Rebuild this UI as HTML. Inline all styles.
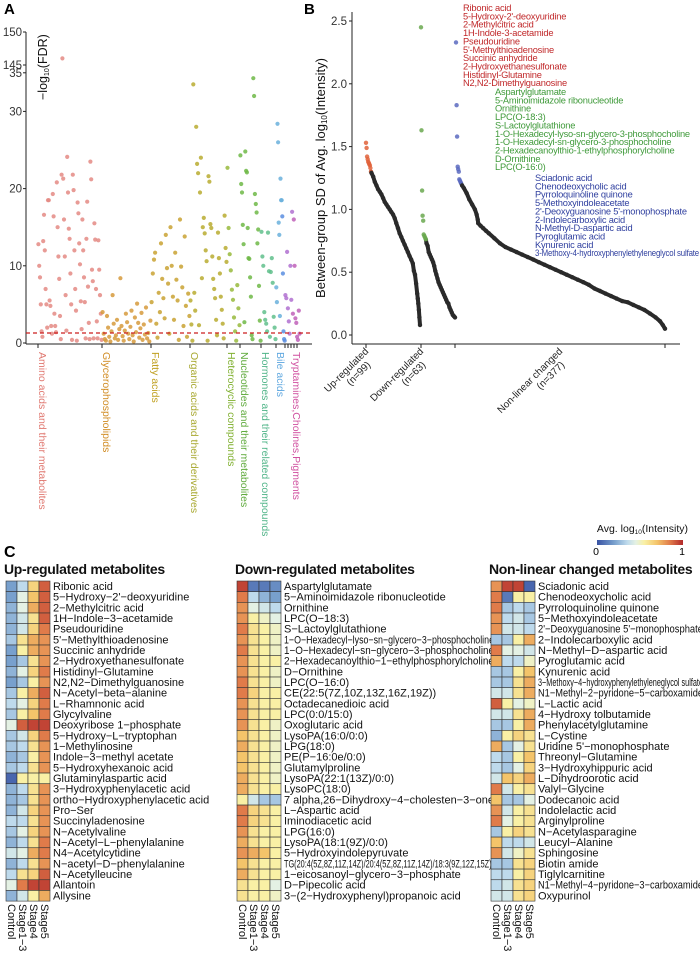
<!DOCTYPE html>
<html><head><meta charset="utf-8"><style>
html,body{margin:0;padding:0;background:#fff;}
svg{display:block;font-family:"Liberation Sans",Arial,sans-serif;}
</style></head><body>
<svg id="fig" width="700" height="957" viewBox="0 0 700 957" xmlns="http://www.w3.org/2000/svg">
<g id="pa"></g>
<g id="pb"></g>
<g id="pc"></g>
</svg>
<script>
// ---------- Panel A data ----------
const catNames = ["Amino acids and their metabolites","Glycerophospholipids","Fatty acids","Organic acids and their derivatives","Heterocyclic compounds","Nucleotides and their metabolites","Hormones and their related compounds","Bile acids","Tryptamines,Cholines,Pigments"];
const aminoVals = [12.8,10,8.5,5,1.5,0.8,13.2,16.6,12,7,5,2,18.5,18.5,5.5,4.8,2.2,1.2,19.3,16.4,3.8,2.2,1.4,20.8,15,11.2,8.3,3.5,0.5,21.8,146,21.3,16,11.2,6.2,1.6,24.1,19.5,14.8,13.5,9,5,0.4,21.8,19.8,12,7,4.2,0.3,18.2,16.8,12.9,10.2,5.4,1.8,16.0,12,8.5,5.3,0.6,13.5,18.3,7.3,2.6,0.5,23.5,21.2,9.5,8,0.6,15.5,13.4,7,2.8,0.6,13.3,9.5,6.2,3.8,0.4];
const glyceroVals = [4,1.2,0.5,0.3,3.5,2,0.8,0.2,1.5,6.2,2.5,0.6,1,3,0.4,1.8,8.4,2.2,0.9,0.3,1.6,3.8,2.7,1.2,0.5,2.1,4.2,1,0.2,3.3,1.4,5.1,2.6,0.7,1.9,3.9,0.4,2.4,1.1,4.6,0.6,1.3,0.2,2.9];
const fattyVals = [5.3,9,10.8,11.7,2.5,0.7,6.5,4,12.9,8.3,5.8,3.2,14,9.7,7.7,1.2,15,10,6,3,11.7,8.2,5.5,0.4,16,9.9,7.2,2.2,13.8,4.8,0.8,6.4,3.5];
const organicVals = [5.5,2.4,0.3,33.5,6.5,4.2,28,23.2,22,2.3,19.5,24,8.4,15,16.2,14.2,12,10.6,0.3,21.6,20.9,15.4,14.9,11.2,8.3,7,5.8,3,1,14.3,11,9,6,4.3,2.5,0.6,16.5,12.3,10.5];
const heteroVals = [22.7,14.9,11.5,9.4,6.9,5.6,3.3,1.5,0.3,7.5,4.5,2.3];
const nucleoVals = [24.3,20.6,19.5,15.3,12.8,2.7,24.8,22.3,22.1,14.9,11,10.9,8.5,6,1,0.5,34.3,32,19.3,18,16.9,12.9,14.7,7.4,2.9,0.3];
const hormoneVals = [14.4,11.2,10,4,3,2.5,1.5,14.3,9.3,0.8,9.2,11,7.8,3.4,2,0.5];
const bileVals = [7.2,5.3,28.4,26,15.6,14,3.5,21.3,18.5,18.5,16.4,9,1.5,0.5,0.3];
const tryptVals = [6.2,5.8,11.8,4.5,2.8,1.2,10,5.6,17,3.8,16,10,3.2,2.6,0.8,0.4,4.2,1.2];
const aTicks = [150,145,35,30,20,10,0];

// ---------- Panel B data ----------
const groupNames = [["Up-regulated","(n=99)"],["Down-regulated","(n=63)"],["Non-linear changed","(n=377)"]];
const groupN = [99,63,377];
const upRank = [1,2,3,4,5,6,7,8,9,10,11,14,17,20,23,26,29,32,35,38,41,44,47,50,53,56,59,62,65,68,71,74,77,80,83,86,88,90,92,94,95,96,97,98,99];
const upVal  = [1.53,1.49,1.42,1.40,1.38,1.37,1.36,1.35,1.33,1.30,1.29,1.26,1.22,1.19,1.16,1.14,1.12,1.09,1.06,1.04,1.02,1.0,0.98,0.96,0.93,0.89,0.85,0.81,0.78,0.75,0.72,0.69,0.66,0.63,0.60,0.57,0.51,0.48,0.41,0.33,0.29,0.25,0.2,0.14,0.08];
const downRank = [1,2,3,4,5,6,7,8,9,10,11,13,15,17,19,21,23,25,27,29,31,33,35,37,39,41,43,45,47,49,51,53,55,57,59,61,63];
const downVal  = [2.45,1.63,1.15,0.95,0.91,0.80,0.79,0.78,0.77,0.76,0.73,0.71,0.66,0.64,0.62,0.60,0.58,0.55,0.51,0.48,0.45,0.42,0.40,0.38,0.36,0.34,0.32,0.30,0.28,0.26,0.25,0.22,0.2,0.18,0.16,0.15,0.14];
const nlRank = [1,2,3,4,5,6,7,8,9,10,12,15,20,25,30,35,38,40,41,45,50,55,60,70,80,90,100,110,120,130,140,150,160,170,180,190,200,210,220,230,240,250,260,270,280,290,300,310,320,330,340,350,360,368,373,377];
const nlVal  = [2.33,1.83,1.58,1.34,1.32,1.30,1.24,1.23,1.22,1.21,1.19,1.17,1.13,1.08,1.04,1.0,0.96,0.92,0.89,0.87,0.85,0.83,0.81,0.77,0.73,0.70,0.68,0.66,0.64,0.62,0.60,0.58,0.56,0.54,0.52,0.50,0.48,0.46,0.44,0.42,0.40,0.37,0.35,0.33,0.31,0.29,0.27,0.26,0.24,0.22,0.20,0.17,0.14,0.11,0.08,0.05];
const bTicks = [0,0.5,1.0,1.5,2.0,2.5];
const upTop = ["Ribonic acid","5-Hydroxy-2'-deoxyuridine","2-Methylcitric acid","1H-Indole-3-acetamide","Pseudouridine","5'-Methylthioadenosine","Succinic anhydride","2-Hydroxyethanesulfonate","Histidinyl-Glutamine","N2,N2-Dimethylguanosine"];
const downTop = ["Aspartylglutamate","5-Aminoimidazole ribonucleotide","Ornithine","LPC(O-18:3)","S-Lactoylglutathione","1-O-Hexadecyl-lyso-sn-glycero-3-phosphocholine","1-O-Hexadecyl-sn-glycero-3-phosphocholine","2-Hexadecanoylthio-1-ethylphosphorylcholine","D-Ornithine","LPC(O-16:0)"];
const nlTop = ["Sciadonic acid","Chenodeoxycholic acid","Pyrroloquinoline quinone","5-Methoxyindoleacetate","2'-Deoxyguanosine 5'-monophosphate","2-Indolecarboxylic acid","N-Methyl-D-aspartic acid","Pyroglutamic acid","Kynurenic acid","3-Methoxy-4-hydroxyphenylethyleneglycol sulfate"];

// ---------- Panel C data ----------
const stages = ["Control","Stage1\u22123","Stage4","Stage5"];
const upNames = ["Ribonic acid","5\u2212Hydroxy\u22122'\u2212deoxyuridine","2\u2212Methylcitric acid","1H\u2212Indole\u22123\u2212acetamide","Pseudouridine","5'\u2212Methylthioadenosine","Succinic anhydride","2\u2212Hydroxyethanesulfonate","Histidinyl\u2212Glutamine","N2,N2\u2212Dimethylguanosine","N\u2212Acetyl\u2212beta\u2212alanine","L\u2212Rhamnonic acid","Glycylvaline","Deoxyribose 1\u2212phosphate","5\u2212Hydroxy\u2212L\u2212tryptophan","1\u2212Methylinosine","Indole\u22123\u2212methyl acetate","5\u2212Hydroxyhexanoic acid","Glutaminylaspartic acid","3\u2212Hydroxyphenylacetic acid","ortho\u2212Hydroxyphenylacetic acid","Pro\u2212Ser","Succinyladenosine","N\u2212Acetylvaline","N\u2212Acetyl\u2212L\u2212phenylalanine","N4\u2212Acetylcytidine","N\u2212acetyl\u2212D\u2212phenylalanine","N\u2212Acetylleucine","Allantoin","Allysine"];
const upHeat = [[.2,.35,.65,.9],[.2,.45,.7,.9],[.25,.45,.75,.9],[.25,.4,.6,.9],[.25,.4,.65,.85],[.3,.6,.75,.8],[.2,.55,.75,.8],[.2,.3,.6,.8],[.25,.45,.65,.85],[.2,.3,.55,.8],[.3,.55,.75,.9],[.35,.45,.65,.85],[.3,.55,.7,.85],[.45,.9,.95,.95],[.3,.4,.65,.85],[.3,.35,.6,.8],[.25,.3,.55,.8],[.3,.35,.6,.8],[.05,.55,.55,.55],[.25,.35,.6,.8],[.25,.3,.6,.8],[.25,.4,.65,.8],[.35,.35,.6,.8],[.3,.45,.65,.8],[.25,.35,.6,.85],[.4,.45,.75,.85],[.25,.35,.6,.8],[.35,.6,.65,.9],[.45,.85,.95,.95],[.25,.4,.55,.75]];
const downNames = ["Aspartylglutamate","5\u2212Aminoimidazole ribonucleotide","Ornithine","LPC(O\u221218:3)","S\u2212Lactoylglutathione","1\u2212O\u2212Hexadecyl\u2212lyso\u2212sn\u2212glycero\u22123\u2212phosphocholine","1\u2212O\u2212Hexadecyl\u2212sn\u2212glycero\u22123\u2212phosphocholine","2\u2212Hexadecanoylthio\u22121\u2212ethylphosphorylcholine","D\u2212Ornithine","LPC(O\u221216:0)","CE(22:5(7Z,10Z,13Z,16Z,19Z))","Octadecanedioic acid","LPC(0:0/15:0)","Oxoglutaric acid","LysoPA(16:0/0:0)","LPG(18:0)","PE(P\u221216:0e/0:0)","Glutamylproline","LysoPA(22:1(13Z)/0:0)","LysoPC(18:0)","7 alpha,26\u2212Dihydroxy\u22124\u2212cholesten\u22123\u2212one","L\u2212Aspartic acid","Iminodiacetic acid","LPG(16:0)","LysoPA(18:1(9Z)/0:0)","5\u2212Hydroxyindolepyruvate","TG(20:4(5Z,8Z,11Z,14Z)/20:4(5Z,8Z,11Z,14Z)/18:3(9Z,12Z,15Z))","1\u2212eicosanoyl\u2212glycero\u22123\u2212phosphate","D\u2212Pipecolic acid","3\u2212(2\u2212Hydroxyphenyl)propanoic acid"];
const downHeat = [[.95,.1,.1,.15],[.85,.35,.25,.2],[.8,.45,.4,.35],[.8,.55,.5,.45],[.85,.6,.55,.5],[.8,.6,.55,.5],[.85,.6,.55,.5],[.8,.6,.55,.55],[.8,.6,.55,.5],[.85,.6,.55,.5],[.85,.65,.55,.55],[.8,.6,.55,.55],[.8,.6,.55,.55],[.8,.6,.55,.5],[.7,.6,.55,.5],[.75,.6,.55,.5],[.7,.6,.55,.5],[.7,.6,.55,.5],[.75,.6,.55,.5],[.75,.6,.55,.55],[.55,.4,.3,.3],[.85,.65,.6,.55],[.85,.65,.6,.55],[.8,.6,.55,.55],[.75,.6,.55,.55],[.8,.75,.7,.55],[.7,.6,.55,.55],[.75,.6,.55,.55],[.6,.55,.55,.45],[.6,.55,.55,.5]];
const nlNames = ["Sciadonic acid","Chenodeoxycholic acid","Pyrroloquinoline quinone","5\u2212Methoxyindoleacetate","2'\u2212Deoxyguanosine 5'\u2212monophosphate","2\u2212Indolecarboxylic acid","N\u2212Methyl\u2212D\u2212aspartic acid","Pyroglutamic acid","Kynurenic acid","3\u2212Methoxy\u22124\u2212hydroxyphenylethyleneglycol sulfate","N1\u2212Methyl\u22122\u2212pyridone\u22125\u2212carboxamide","L\u2212Lactic acid","4\u2212Hydroxy tolbutamide","Phenylacetylglutamine","L\u2212Cystine","Uridine 5'\u2212monophosphate","Threonyl\u2212Glutamine","3\u2212Hydroxyhippuric acid","L\u2212Dihydroorotic acid","Valyl\u2212Glycine","Dodecanoic acid","Indolelactic acid","Arginylproline","N\u2212Acetylasparagine","Leucyl\u2212Alanine","Sphingosine","Biotin amide","Tiglylcarnitine","N1\u2212Methyl\u22124\u2212pyridone\u22123\u2212carboxamide","Oxypurinol"];
const nlHeat = [[.8,.95,.95,.05],[.85,.1,.55,.55],[.85,.3,.35,.3],[.8,.35,.4,.3],[.8,.4,.4,.35],[.3,.3,.55,.75],[.85,.45,.45,.4],[.75,.35,.35,.5],[.3,.3,.55,.7],[.3,.3,.6,.75],[.4,.4,.6,.75],[.9,.55,.45,.5],[.4,.4,.6,.75],[.3,.3,.55,.75],[.25,.55,.65,.6],[.75,.3,.45,.6],[.35,.3,.55,.7],[.35,.3,.45,.65],[.4,.7,.65,.75],[.85,.4,.55,.6],[.7,.3,.3,.45],[.8,.4,.55,.6],[.85,.45,.55,.6],[.3,.55,.65,.6],[.7,.35,.35,.4],[.8,.4,.5,.6],[.3,.3,.6,.65],[.35,.35,.55,.65],[.35,.4,.6,.65],[.4,.4,.6,.65]];

// ---------- helpers ----------
const NS = "http://www.w3.org/2000/svg";
function mk(tag, attrs, parent, text){
  const e = document.createElementNS(NS, tag);
  for (const k in attrs) e.setAttribute(k, attrs[k]);
  if (text !== undefined) e.textContent = text;
  parent.appendChild(e);
  return e;
}
const pa = document.getElementById('pa'), pb = document.getElementById('pb'), pc = document.getElementById('pc');

// ---------- Panel A ----------
let t = mk('text',{x:4,y:14,'font-size':15,'font-weight':'bold'},pa,'A');


function ayA(v){ return v > 100 ? 32 + (150 - v) / 5 * 33 : 343 - v * 7.72; }
const AX0 = 26, AX1 = 312;
let l = mk('line',{x1:AX0,y1:32,x2:AX0,y2:344,stroke:'#222','stroke-width':1},pa);


l = mk('line',{x1:AX0,y1:344,x2:AX1,y2:344,stroke:'#222','stroke-width':1},pa);


aTicks.forEach(v=>{
  const y = ayA(v);
  mk('line',{x1:AX0-3,y1:y,x2:AX0,y2:y,stroke:'#222'},pa);
  const tt = mk('text',{x:AX0-4,y:y+4,'font-size':11.5,'text-anchor':'end',fill:'#333'},pa,String(v));
  
  
});
t = mk('text',{transform:'translate(47,100) rotate(-90)','font-size':12.5,fill:'#111'},pa);


mk('tspan',{},t,'\u2212log');
mk('tspan',{'font-size':7,dy:2},t,'10');
mk('tspan',{dy:-2},t,'(FDR)');

const catVals = [aminoVals,glyceroVals,fattyVals,organicVals,heteroVals,nucleoVals,hormoneVals,bileVals,tryptVals];
const catStart = [38,102,151,190,227,240,261,276,285];
const catEnd = [102,151,190,227,240,261,276,285,300];
const catDot = ['#e48a84','#d69a3c','#c9a232','#b8ab30','#98ba3c','#6fb946','#60c08c','#6ab0dc','#b070d0'];
const catLab = ['#e07870','#d08a20','#c0a020','#a8a830','#80b030','#5faa3c','#50b488','#60a8e0','#d050a0'];
catVals.forEach((vals,ci)=>{
  const g = mk('g',{},pa);
  
  
  vals.forEach((v,i)=>{
    const x = catStart[ci] + (i + 0.5) / vals.length * (catEnd[ci] - catStart[ci]);
    let col = catDot[ci];
    if (ci === 7 && i > 9) col = '#5a8ee0';
    if (ci === 8 && i > 8) col = '#c060b8';
    const c = mk('circle',{cx:x.toFixed(1),cy:ayA(v).toFixed(1),r:2.1,fill:col,'fill-opacity':0.85},g);
    
    
  });
  mk('line',{x1:catStart[ci],y1:344,x2:catStart[ci],y2:348,stroke:'#222'},pa);
  const lb = mk('text',{transform:`translate(${catStart[ci]+(ci===8?8:1)},352) rotate(90)`,'font-size':10.5,fill:catLab[ci]},pa,catNames[ci]);
  
  
});
[288,291,294,297].forEach(x=>mk('line',{x1:x,y1:344,x2:x,y2:348,stroke:'#222'},pa));
l = mk('line',{x1:AX0,y1:ayA(1.3),x2:AX1,y2:ayA(1.3),stroke:'#cc1f1f','stroke-width':1.2,'stroke-dasharray':'4,3'},pa);



// ---------- Panel B ----------
t = mk('text',{x:304,y:14,'font-size':15,'font-weight':'bold'},pb,'B');


function ayB(v){ return 335 - v * 125.6; }
const BX0 = 352;
l = mk('line',{x1:BX0,y1:12,x2:BX0,y2:344,stroke:'#222'},pb);


l = mk('line',{x1:BX0,y1:344,x2:680,y2:344,stroke:'#222'},pb);


bTicks.forEach(v=>{
  const y = ayB(v);
  mk('line',{x1:BX0-3,y1:y,x2:BX0,y2:y,stroke:'#222'},pb);
  const tt = mk('text',{x:BX0-5,y:y+4,'font-size':11.5,'text-anchor':'end',fill:'#333'},pb,v.toFixed(1));
  
  
});
t = mk('text',{transform:'translate(325,178) rotate(-90)','font-size':13,'text-anchor':'middle',fill:'#111'},pb);


mk('tspan',{},t,'Between-group SD of Avg. log');
mk('tspan',{'font-size':8,dy:2},t,'10');
mk('tspan',{dy:-2},t,'(Intensity)');
const gStart = [366,421,456], gEnd = [420,455,665];
const gRanks = [upRank,downRank,nlRank], gVals = [upVal,downVal,nlVal];
const gCol = ['#e0623a','#6aa84f','#5a6ac0'];
function xB(gi, r){ return gStart[gi] + (r - 1) / (groupN[gi] - 1) * (gEnd[gi] - gStart[gi]); }
gRanks.forEach((ranks,gi)=>{
  const g = mk('g',{},pb);
  
  
  const vals = gVals[gi];
  let pts = [];
  ranks.forEach((r,i)=>{ if (r >= 10) pts.push(xB(gi,r).toFixed(1)+','+ayB(vals[i]).toFixed(1)); });
  mk('polyline',{points:pts.join(' '),fill:'none',stroke:'#2a2a2a','stroke-width':4,'stroke-linecap':'round','stroke-linejoin':'round'},g);
  ranks.forEach((r,i)=>{
    const c = mk('circle',{cx:xB(gi,r).toFixed(1),cy:ayB(vals[i]).toFixed(1),r:2.2,fill:r<=10?gCol[gi]:'#2a2a2a','fill-opacity':r<=10?0.85:1},g);
    
    
  });
});
[366,421,455,665].forEach(x=>mk('line',{x1:x,y1:344,x2:x,y2:348,stroke:'#222'},pb));
const gLabX = [366,421,560];
groupNames.forEach((nm,gi)=>{
  const tt = mk('text',{transform:`translate(${gLabX[gi]+3},352) rotate(-45)`,'font-size':10,'text-anchor':'end',fill:'#222'},pb);
  
  
  mk('tspan',{x:0,y:0},tt,nm[0]);
  mk('tspan',{x:-8,y:0,dy:11},tt,nm[1]);
});
const topLists = [upTop,downTop,nlTop], topX = [463,495,535], topY = [11,95,181], topCol = ['#c0282a','#3f9a3a','#2f3f9f'];
topLists.forEach((list,gi)=>{
  list.forEach((nm,i)=>{
    const tt = mk('text',{x:topX[gi],y:topY[gi]+i*8.35,'font-size':9.3,fill:topCol[gi],'letter-spacing':'-0.2'},pb,nm);
    
    
    if (tt.getComputedTextLength() > 699 - topX[gi]) { tt.setAttribute('textLength', 699 - topX[gi]); tt.setAttribute('lengthAdjust','spacingAndGlyphs'); }
  });
});

// ---------- Panel C ----------
t = mk('text',{x:4,y:557,'font-size':16,'font-weight':'bold'},pc,'C');


const stops = [[0,[57,83,164]],[0.2,[120,160,205]],[0.35,[190,218,236]],[0.45,[228,241,228]],[0.55,[249,240,165]],[0.7,[244,196,106]],[0.85,[224,123,74]],[1,[178,40,42]]];
function colScale(v){
  v = Math.max(0, Math.min(1, v));
  for (let i = 1; i < stops.length; i++){
    if (v <= stops[i][0]){
      const a = stops[i-1], b = stops[i], f = (v - a[0]) / (b[0] - a[0]);
      const c = a[1].map((x,k)=>Math.round(x + (b[1][k] - x) * f));
      return `rgb(${c[0]},${c[1]},${c[2]})`;
    }
  }
  return 'rgb(178,40,42)';
}
const hmTitles = ["Up-regulated metabolites","Down-regulated metabolites","Non-linear changed metabolites"];
const hmX = [6,237,491], hmTitleX = [4,235,489], hmLabMax = [175,210,165];
const hmNames = [upNames,downNames,nlNames], hmData = [upHeat,downHeat,nlHeat];
const CW = 11, RH = 10.67, HY = 581;
hmData.forEach((data,hi)=>{
  const g = mk('g',{},pc);
  
  
  const tt = mk('text',{x:hmTitleX[hi],y:574,'font-size':14,'font-weight':'bold',fill:'#111','letter-spacing':'-0.3'},g,hmTitles[hi]);
  
  
  data.forEach((row,ri)=>{
    row.forEach((v,ci)=>{
      const r = mk('rect',{x:hmX[hi]+ci*CW,y:(HY+ri*RH).toFixed(2),width:CW,height:RH.toFixed(2),fill:colScale(v),stroke:'#333','stroke-width':0.6},g);
      
      
    });
    const lb = mk('text',{x:hmX[hi]+4*CW+3,y:(HY+ri*RH+RH-1.7).toFixed(2),'font-size':11,fill:'#111'},g,hmNames[hi][ri]);
    
    
    if (lb.getComputedTextLength() > hmLabMax[hi]) { lb.setAttribute('textLength', hmLabMax[hi]); lb.setAttribute('lengthAdjust','spacingAndGlyphs'); }
  });
  stages.forEach((s,ci)=>{
    const cl = mk('text',{transform:`translate(${hmX[hi]+ci*CW+2},904) rotate(90)`,'font-size':11,fill:'#111'},g,s);
    
    
  });
});
// legend
const lg = mk('g',{},pc);


const lt = mk('text',{x:688,y:532,'font-size':10.5,'text-anchor':'end',fill:'#111'},lg);
mk('tspan',{},lt,'Avg. log');
mk('tspan',{'font-size':6.5,dy:2},lt,'10');
mk('tspan',{dy:-2},lt,'(Intensity)');
const defs = mk('defs',{},lg);
const gr = mk('linearGradient',{id:'cbar',x1:0,x2:1,y1:0,y2:0},defs);
stops.forEach(s=>mk('stop',{offset:s[0],'stop-color':`rgb(${s[1].join(',')})`},gr));
const cb = mk('rect',{x:597,y:540,width:86,height:5,fill:'url(#cbar)'},lg);


mk('text',{x:596,y:555,'font-size':10.5,'text-anchor':'middle'},lg,'0');
mk('text',{x:682,y:555,'font-size':10.5,'text-anchor':'middle'},lg,'1');
</script>
</body></html>
